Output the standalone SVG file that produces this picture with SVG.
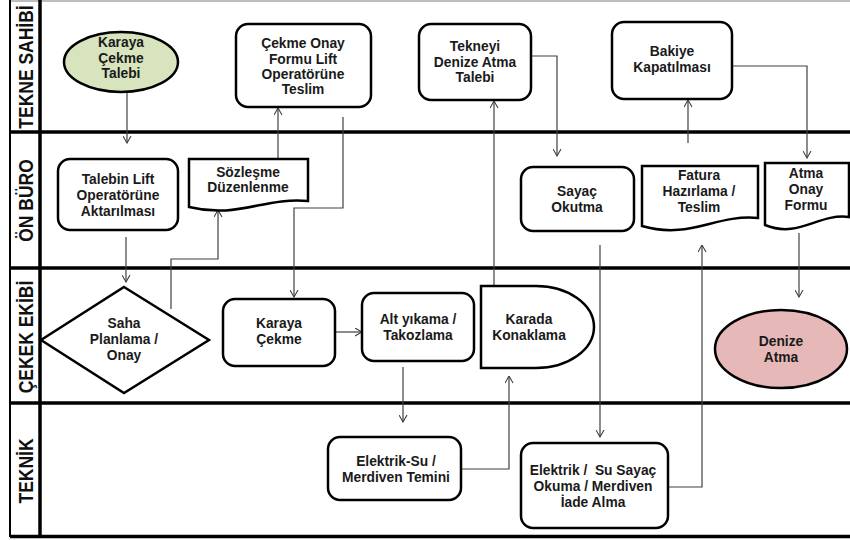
<svg xmlns="http://www.w3.org/2000/svg" width="850" height="540" viewBox="0 0 850 540">
  <style>
    .lane { stroke: #000; stroke-width: 3.5; fill: none; }
    .frame { stroke: #000; stroke-width: 2; fill: none; }
    .lbl { font-family: "Liberation Sans", Arial, sans-serif; font-weight: bold; font-size: 17.5px; fill: #111; text-anchor: middle; }
    .box { fill: #fff; stroke: #000; stroke-width: 2.5; }
    .green { fill: #d7e4bd; }
    .pink { fill: #e6b9b8; }
    .t { font-family: "Liberation Sans", Arial, sans-serif; font-weight: bold; font-size: 13.8px; fill: #1a1a1a; text-anchor: middle; }
    .c { fill: none; stroke: #404040; stroke-width: 1.2; marker-end: url(#arr); }
  </style>
  <defs>
    <marker id="arr" markerUnits="userSpaceOnUse" viewBox="0 0 8 9" refX="7.5" refY="4.5" markerWidth="8" markerHeight="9" orient="auto">
      <path d="M0.5,0.5 L7.5,4.5 L0.5,8.5" fill="none" stroke="#404040" stroke-width="1.1"/>
    </marker>
  </defs>

  <rect width="850" height="540" fill="#fff"/>

  <!-- swimlane frame -->
  <g id="lanes">
    <line x1="10" y1="1" x2="850" y2="1" stroke="#bdbdbd" stroke-width="2"/>
    <line class="frame" x1="10" y1="0" x2="10" y2="537"/>
    <line class="lane" x1="40" y1="0" x2="40" y2="537"/>
    <line class="lane" x1="10" y1="132" x2="850" y2="132"/>
    <line class="lane" x1="10" y1="268" x2="850" y2="268"/>
    <line class="lane" x1="10" y1="403" x2="850" y2="403"/>
    <line class="lane" x1="10" y1="536.5" x2="850" y2="536.5"/>
    <!-- lane titles: rotated, glyphs stretched slightly in height -->
    <text class="lbl" transform="translate(33,67) rotate(-90) scale(1,1.15)">TEKNE SAHİBİ</text>
    <text class="lbl" transform="translate(33,200.5) rotate(-90) scale(1,1.15)">ÖN BÜRO</text>
    <text class="lbl" transform="translate(33,337) rotate(-90) scale(1,1.15)">ÇEKEK EKİBİ</text>
    <text class="lbl" transform="translate(33,471) rotate(-90) scale(1,1.15)">TEKNİK</text>
  </g>

  <!-- connectors -->
  <g id="connectors">
    <path class="c" d="M127,92 V143"/>
    <path class="c" d="M126,237 V282"/>
    <path class="c" d="M171,309 V259 H218 V210"/>
    <path class="c" d="M278,158 V108"/>
    <path class="c" d="M343,117 V208 H294 V297"/>
    <path class="c" d="M335,332 H362"/>
    <path class="c" d="M403,367 V422"/>
    <path class="c" d="M461,469 H509 V376"/>
    <path class="c" d="M494,286 V101"/>
    <path class="c" d="M531,56 H557 V156"/>
    <path class="c" d="M600,245 V437"/>
    <path class="c" d="M668,487 H702 V245"/>
    <path class="c" d="M688,143 V100"/>
    <path class="c" d="M732,66 H807 V158"/>
    <path class="c" d="M799,233 V297"/>
  </g>

  <!-- TEKNE SAHİBİ lane -->
  <g id="karaya-cekme-talebi">
    <ellipse class="box green" cx="121" cy="62" rx="57" ry="30"/>
    <text class="t" x="121" y="47">Karaya</text>
    <text class="t" x="121" y="62.5">Çekme</text>
    <text class="t" x="121" y="78">Talebi</text>
  </g>
  <g id="cekme-onay-formu">
    <rect class="box" x="236" y="24" width="135" height="83" rx="12"/>
    <text class="t" x="303" y="48">Çekme Onay</text>
    <text class="t" x="303" y="63.5">Formu Lift</text>
    <text class="t" x="303" y="79">Operatörüne</text>
    <text class="t" x="303" y="94">Teslim</text>
  </g>
  <g id="denize-atma-talebi">
    <rect class="box" x="419" y="24" width="112" height="76" rx="12"/>
    <text class="t" x="475" y="51">Tekneyi</text>
    <text class="t" x="475" y="66.5">Denize Atma</text>
    <text class="t" x="475" y="82">Talebi</text>
  </g>
  <g id="bakiye-kapatilmasi">
    <rect class="box" x="612" y="22" width="120" height="77" rx="12"/>
    <text class="t" x="672" y="56">Bakiye</text>
    <text class="t" x="672" y="72">Kapatılması</text>
  </g>

  <!-- ÖN BÜRO lane -->
  <g id="talebin-aktarilmasi">
    <rect class="box" x="58" y="159" width="120" height="71" rx="12"/>
    <text class="t" x="118" y="184">Talebin Lift</text>
    <text class="t" x="118" y="200">Operatörüne</text>
    <text class="t" x="118" y="216">Aktarılması</text>
  </g>
  <g id="sozlesme-duzenlenme">
    <path class="box" d="M189,159 H308 V201 C264,197 238,219 189,207 Z"/>
    <text class="t" x="248" y="177">Sözleşme</text>
    <text class="t" x="248" y="192">Düzenlenme</text>
  </g>
  <g id="sayac-okutma">
    <rect class="box" x="521" y="167" width="113" height="64" rx="12"/>
    <text class="t" x="577" y="196">Sayaç</text>
    <text class="t" x="577" y="212">Okutma</text>
  </g>
  <g id="fatura-hazirlama">
    <path class="box" d="M642,166 H758 V218 C715,214 690,240 642,226 Z"/>
    <text class="t" x="699" y="180">Fatura</text>
    <text class="t" x="699" y="196">Hazırlama /</text>
    <text class="t" x="699" y="212">Teslim</text>
  </g>
  <g id="atma-onay-formu">
    <path class="box" d="M765,163 H849 V217 C818,213 799,239 765,225 Z"/>
    <text class="t" x="806" y="178">Atma</text>
    <text class="t" x="806" y="194">Onay</text>
    <text class="t" x="806" y="210">Formu</text>
  </g>

  <!-- ÇEKEK EKİBİ lane -->
  <g id="saha-planlama">
    <path class="box" d="M124,287 L209,340 L124,393 L41,340 Z"/>
    <text class="t" x="124" y="328">Saha</text>
    <text class="t" x="124" y="344">Planlama /</text>
    <text class="t" x="124" y="360">Onay</text>
  </g>
  <g id="karaya-cekme">
    <rect class="box" x="223" y="299" width="112" height="67" rx="12"/>
    <text class="t" x="279" y="328">Karaya</text>
    <text class="t" x="279" y="344">Çekme</text>
  </g>
  <g id="alt-yikama">
    <rect class="box" x="362" y="293" width="112" height="68" rx="12"/>
    <text class="t" x="418" y="324">Alt yıkama /</text>
    <text class="t" x="418" y="340">Takozlama</text>
  </g>
  <g id="karada-konaklama">
    <path class="box" d="M481,286 H536 A58,41 0 0 1 536,368 H481 Z"/>
    <text class="t" x="529" y="324">Karada</text>
    <text class="t" x="529" y="340">Konaklama</text>
  </g>
  <g id="denize-atma">
    <ellipse class="box pink" cx="781" cy="349" rx="66" ry="39"/>
    <text class="t" x="781" y="346">Denize</text>
    <text class="t" x="781" y="362">Atma</text>
  </g>

  <!-- TEKNİK lane -->
  <g id="elektrik-su-temini">
    <rect class="box" x="328" y="437" width="133" height="63" rx="12"/>
    <text class="t" x="396" y="466">Elektrik-Su /</text>
    <text class="t" x="396" y="482">Merdiven Temini</text>
  </g>
  <g id="sayac-okuma-iade">
    <rect class="box" x="521" y="443" width="147" height="85" rx="12"/>
    <text class="t" x="593" y="475" xml:space="preserve">Elektrik /  Su Sayaç</text>
    <text class="t" x="593" y="491">Okuma / Merdiven</text>
    <text class="t" x="593" y="507">İade Alma</text>
  </g>
</svg>
